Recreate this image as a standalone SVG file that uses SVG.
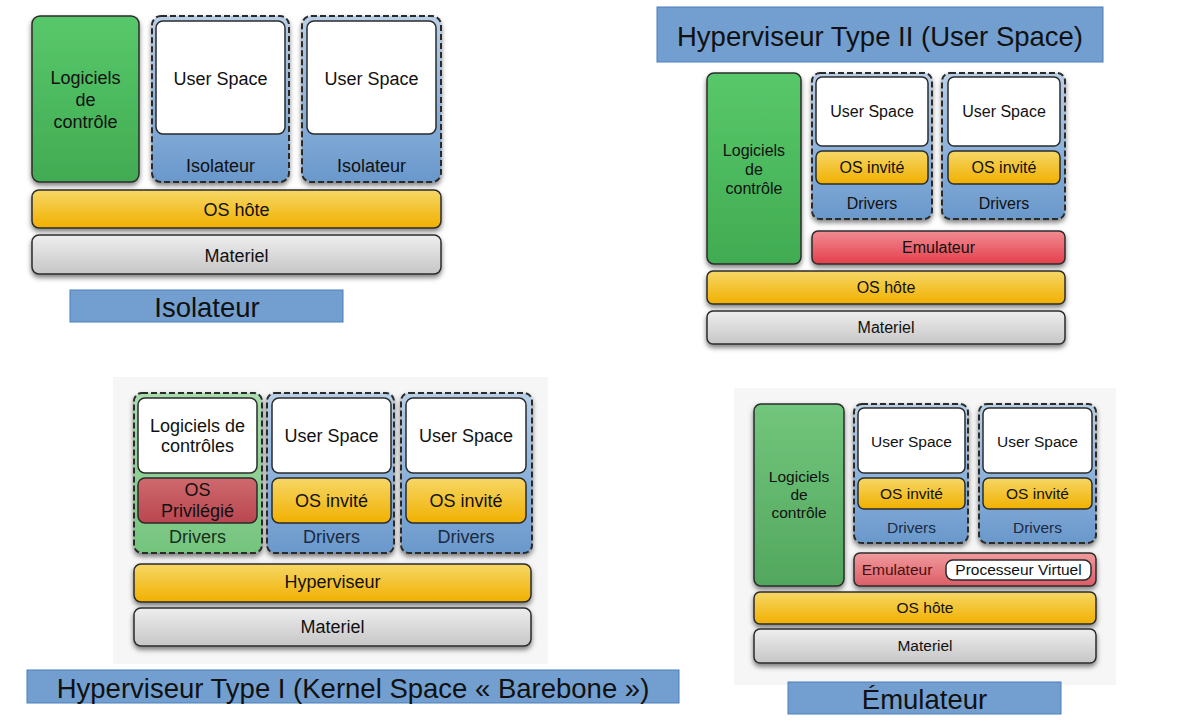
<svg xmlns="http://www.w3.org/2000/svg" width="1181" height="724" viewBox="0 0 1181 724">
<defs>
<linearGradient id="gGreen" x1="0" y1="0" x2="0" y2="1"><stop offset="0" stop-color="#58c86a"/><stop offset="1" stop-color="#41ab52"/></linearGradient>
<linearGradient id="gGreen2" x1="0" y1="0" x2="0" y2="1"><stop offset="0" stop-color="#72c67c"/><stop offset="1" stop-color="#52a75e"/></linearGradient>
<linearGradient id="gGreenC" x1="0" y1="0" x2="0" y2="1"><stop offset="0" stop-color="#a9dcae"/><stop offset="1" stop-color="#74c47d"/></linearGradient>
<linearGradient id="gBlue" x1="0" y1="0" x2="0" y2="1"><stop offset="0" stop-color="#b9cfe7"/><stop offset="0.6" stop-color="#86aed9"/><stop offset="1" stop-color="#6a98cb"/></linearGradient>
<linearGradient id="gOrange" x1="0" y1="0" x2="0" y2="1"><stop offset="0" stop-color="#f6d766"/><stop offset="1" stop-color="#f1b000"/></linearGradient>
<linearGradient id="gGray" x1="0" y1="0" x2="0" y2="1"><stop offset="0" stop-color="#eeeeee"/><stop offset="1" stop-color="#c6c6c6"/></linearGradient>
<linearGradient id="gRed" x1="0" y1="0" x2="0" y2="1"><stop offset="0" stop-color="#f28c92"/><stop offset="1" stop-color="#e33f4c"/></linearGradient>
<linearGradient id="gRedDark" x1="0" y1="0" x2="0" y2="1"><stop offset="0" stop-color="#cf6a6e"/><stop offset="1" stop-color="#b94650"/></linearGradient>
<linearGradient id="gRedSoft" x1="0" y1="0" x2="0" y2="1"><stop offset="0" stop-color="#f09a9c"/><stop offset="1" stop-color="#dc5d68"/></linearGradient>
<filter id="sh" x="-10%" y="-10%" width="120%" height="140%"><feDropShadow dx="0" dy="3" stdDeviation="2.4" flood-color="#000" flood-opacity="0.5"/></filter>
<style>
.box{stroke:#2b2b2b;stroke-width:1.5;filter:url(#sh)}
.dash{stroke:#2a2a2a;stroke-width:2;stroke-dasharray:6 3;fill:url(#gBlue);filter:url(#sh)}
.dashG{stroke:#2a2a2a;stroke-width:2;stroke-dasharray:6 3;fill:url(#gGreenC);filter:url(#sh)}
.white{fill:#ffffff;stroke:#2b2b2b;stroke-width:1.5}
.green{fill:url(#gGreen)}
.green2{fill:url(#gGreen2)}
.orange{fill:url(#gOrange)}
.gray{fill:url(#gGray)}
.red{fill:url(#gRed)}
.title{fill:#729fcf;stroke:#4a7ebb;stroke-width:1}
.bg{fill:#f6f6f6}
text{font-family:"Liberation Sans",Arial,sans-serif;fill:#111;text-anchor:middle}
.t18{font-size:18px}
.t16{font-size:16px}
.t15{font-size:15.5px}
.tt{font-size:27.5px}
</style>
</defs>
<rect x="0" y="0" width="1181" height="724" fill="#ffffff"/>

<!-- Quadrant 1: Isolateur -->
<g id="iso-logiciels"><rect class="box green" x="32" y="16" width="107" height="166" rx="8"/><text class="t18" x="85.5" y="84">Logiciels</text><text class="t18" x="85.5" y="106">de</text><text class="t18" x="85.5" y="128">contrôle</text></g>
<g id="iso-container1"><rect class="dash" x="152" y="16" width="137" height="166" rx="9"/><rect class="white" x="156" y="21" width="129" height="113" rx="7"/><text class="t18" x="220.5" y="85">User Space</text><text class="t18" x="220.5" y="172">Isolateur</text></g>
<g id="iso-container2"><rect class="dash" x="302" y="16" width="139" height="166" rx="9"/><rect class="white" x="307" y="21" width="129" height="113" rx="7"/><text class="t18" x="371.5" y="85">User Space</text><text class="t18" x="371.5" y="172">Isolateur</text></g>
<g id="iso-oshote"><rect class="box orange" x="32" y="190" width="409" height="38" rx="7"/><text class="t18" x="236.5" y="216">OS hôte</text></g>
<g id="iso-materiel"><rect class="box gray" x="32" y="235" width="409" height="39" rx="7"/><text class="t18" x="236.5" y="262">Materiel</text></g>
<g id="iso-title"><rect class="title" x="70" y="290" width="273" height="32"/><text class="tt" x="207" y="317">Isolateur</text></g>

<!-- Quadrant 2: Hyperviseur Type II -->
<g id="t2-title"><rect class="title" x="657" y="7" width="446" height="55"/><text class="tt" x="880" y="46">Hyperviseur Type II (User Space)</text></g>
<g id="t2-logiciels"><rect class="box green" x="707" y="73" width="94" height="191" rx="7"/><text class="t16" x="754" y="156">Logiciels</text><text class="t16" x="754" y="175">de</text><text class="t16" x="754" y="194">contrôle</text></g>
<g id="t2-container1"><rect class="dash" x="812" y="73" width="120" height="146" rx="8"/><rect class="white" x="816" y="77" width="112" height="69" rx="6"/><text class="t16" x="872" y="117">User Space</text><rect class="box orange" x="816" y="151" width="112" height="33" rx="6" style="filter:none"/><text class="t16" x="872" y="173">OS invité</text><text class="t16" x="872" y="209">Drivers</text></g>
<g id="t2-container2"><rect class="dash" x="942" y="73" width="123" height="146" rx="8"/><rect class="white" x="948" y="77" width="112" height="69" rx="6"/><text class="t16" x="1004" y="117">User Space</text><rect class="box orange" x="948" y="151" width="112" height="33" rx="6" style="filter:none"/><text class="t16" x="1004" y="173">OS invité</text><text class="t16" x="1004" y="209">Drivers</text></g>
<g id="t2-emulateur"><rect class="box red" x="812" y="231" width="253" height="33" rx="6"/><text class="t16" x="938.5" y="253">Emulateur</text></g>
<g id="t2-oshote"><rect class="box orange" x="707" y="271" width="358" height="33" rx="6"/><text class="t16" x="886" y="293">OS hôte</text></g>
<g id="t2-materiel"><rect class="box gray" x="707" y="311" width="358" height="33" rx="6"/><text class="t16" x="886" y="333">Materiel</text></g>

<!-- Quadrant 3: Hyperviseur Type I -->
<rect class="bg" x="113" y="377" width="435" height="287"/>
<g id="t1-container0"><rect class="dashG" x="134" y="393" width="128" height="160" rx="8"/><rect class="white" x="138" y="398" width="119" height="75" rx="7"/><text class="t18" x="197.5" y="432">Logiciels de</text><text class="t18" x="197.5" y="452">contrôles</text><rect class="box" x="138" y="478" width="119" height="45" rx="7" fill="url(#gRedDark)" style="filter:none"/><text class="t18" x="197.5" y="496">OS</text><text class="t18" x="197.5" y="517">Privilégié</text><text class="t18" x="197.5" y="543" style="fill:#16301c">Drivers</text></g>
<g id="t1-container1"><rect class="dash" x="267" y="393" width="127" height="160" rx="8"/><rect class="white" x="272" y="398" width="119" height="75" rx="7"/><text class="t18" x="331.5" y="442">User Space</text><rect class="box orange" x="272" y="478" width="119" height="45" rx="7" style="filter:none"/><text class="t18" x="331.5" y="507">OS invité</text><text class="t18" x="331.5" y="543" style="fill:#1a2a44">Drivers</text></g>
<g id="t1-container2"><rect class="dash" x="401" y="393" width="131" height="160" rx="8"/><rect class="white" x="406" y="398" width="120" height="75" rx="7"/><text class="t18" x="466" y="442">User Space</text><rect class="box orange" x="406" y="478" width="120" height="45" rx="7" style="filter:none"/><text class="t18" x="466" y="507">OS invité</text><text class="t18" x="466" y="543" style="fill:#1a2a44">Drivers</text></g>
<g id="t1-hyperviseur"><rect class="box orange" x="134" y="564" width="397" height="38" rx="7"/><text class="t18" x="332.5" y="588">Hyperviseur</text></g>
<g id="t1-materiel"><rect class="box gray" x="134" y="608" width="397" height="38" rx="7"/><text class="t18" x="332.5" y="633">Materiel</text></g>
<g id="t1-title"><rect class="title" x="27" y="670" width="652" height="33"/><text class="tt" x="353" y="698">Hyperviseur Type I (Kernel Space « Barebone »)</text></g>

<!-- Quadrant 4: Émulateur -->
<rect class="bg" x="734" y="388" width="382" height="297"/>
<g id="em-logiciels"><rect class="box green2" x="754" y="404" width="90" height="182" rx="7"/><text class="t15" x="799" y="482">Logiciels</text><text class="t15" x="799" y="500">de</text><text class="t15" x="799" y="518">contrôle</text></g>
<g id="em-container1"><rect class="dash" x="854" y="404" width="114" height="139" rx="8"/><rect class="white" x="858" y="408" width="107" height="65" rx="6"/><text class="t15" x="911.5" y="447">User Space</text><rect class="box orange" x="858" y="478" width="107" height="31" rx="6" style="filter:none"/><text class="t15" x="911.5" y="499">OS invité</text><text class="t15" x="911.5" y="533" style="fill:#1a2a44">Drivers</text></g>
<g id="em-container2"><rect class="dash" x="979" y="404" width="117" height="139" rx="8"/><rect class="white" x="983" y="408" width="109" height="65" rx="6"/><text class="t15" x="1037.5" y="447">User Space</text><rect class="box orange" x="983" y="478" width="109" height="31" rx="6" style="filter:none"/><text class="t15" x="1037.5" y="499">OS invité</text><text class="t15" x="1037.5" y="533" style="fill:#1a2a44">Drivers</text></g>
<g id="em-emulateur"><rect class="box" x="854" y="553" width="242" height="33" rx="6" fill="url(#gRedSoft)"/><text class="t15" x="897" y="575" style="fill:#4a1010">Emulateur</text><rect class="white" x="946" y="560" width="145" height="20" rx="7"/><text class="t15" x="1018.5" y="575">Processeur Virtuel</text></g>
<g id="em-oshote"><rect class="box orange" x="754" y="592" width="342" height="32" rx="6"/><text class="t15" x="925" y="613">OS hôte</text></g>
<g id="em-materiel"><rect class="box gray" x="754" y="629" width="342" height="34" rx="6"/><text class="t15" x="925" y="651">Materiel</text></g>
<g id="em-title"><rect class="title" x="788" y="682" width="273" height="32"/><text class="tt" x="924.5" y="709">Émulateur</text></g>

<g id="connectors"></g>
</svg>
